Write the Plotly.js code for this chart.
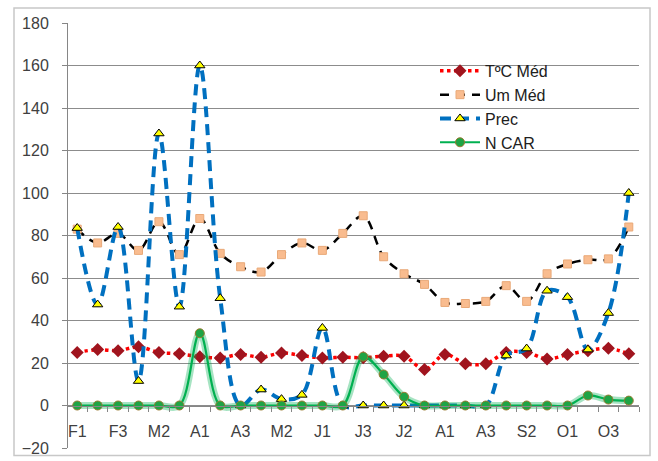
<!DOCTYPE html>
<html>
<head>
<meta charset="utf-8">
<script src="https://cdn.plot.ly/plotly-3.0.1.min.js"></script>
<style>html,body{margin:0;padding:0;background:#fff;}#chart{width:658px;height:461px;}</style>
</head>
<body>
<div id="chart"></div>
<script>
// Category labels (28 ten-day periods)
const labels = ['F1','F2','F3','M1','M2','M3','A1','A2','A3','M1','M2','M3','J1','J2','J3','J1','J2','J3','A1','A2','A3','S1','S2','S3','O1','O2','O3','N1'];
// Series values
const tempMed = [25,26.3,25.8,27.6,25,24.3,23,22.4,24,22.7,24.7,23.5,22.4,22.7,22.5,23.2,23.2,17,24,19.7,19.7,25,25,21.9,24,25.8,26.9,24.3];
const umMed   = [83,76.5,81,73,86.5,71,88,71.6,65.3,62.8,71,76.5,73,81,89.3,70,62,57,48.5,48,49,56.4,49,62,66.6,68.6,69,84];
const prec    = [83.5,47.5,84,11.5,128,46.5,160,50.5,0,7.5,3,5,36.5,0,0,0,0,0,0,0,0,23.5,26.8,54,51,26.3,43.5,100];
const nCar    = [0,0,0,0,0,0,34,0,0,0,0,0,0,0,23,14.6,4.1,0,0,0,0,0,0,0,0,4.7,2.8,2.3];
const seriesNames = ['TºC Méd','Um Méd','Prec','N CAR'];
// Y axis ticks
const yTicks = [-20,0,20,40,60,80,100,120,140,160,180];

const xs = labels.map((_, i) => i);
const shownText = labels.map((l, i) => (i % 2 === 0 ? l : ''));
const boundaries = labels.map((_, i) => i - 0.5).concat([labels.length - 0.5]);

const traces = [
  {x: xs, y: tempMed, name: seriesNames[0], type: 'scatter', mode: 'lines+markers',
   line: {color: '#ff0000', width: 3.5, dash: 'dot', shape: 'spline', smoothing: 1},
   marker: {symbol: 'diamond', size: 10, color: '#a0141e', line: {color: '#a0141e', width: 0}}},
  {x: xs, y: umMed, name: seriesNames[1], type: 'scatter', mode: 'lines+markers',
   line: {color: '#000000', width: 2.5, dash: '9px,7px', shape: 'spline', smoothing: 1},
   marker: {symbol: 'square', size: 8, color: '#f9bc8f', line: {color: '#e9a978', width: 1}}},
  {x: xs, y: prec, name: seriesNames[2], type: 'scatter', mode: 'lines+markers',
   line: {color: '#0070c0', width: 4, dash: '11px,7px', shape: 'spline', smoothing: 1},
   marker: {symbol: 'triangle-up', size: 9, color: '#ffff00', line: {color: '#000000', width: 1}}},
  {x: xs, y: nCar, name: seriesNames[3], type: 'scatter', mode: 'lines', showlegend: false, hoverinfo: 'skip',
   line: {color: 'rgba(0,176,80,0.35)', width: 7, shape: 'spline', smoothing: 1}},
  {x: xs, y: nCar, name: seriesNames[3], type: 'scatter', mode: 'lines+markers',
   line: {color: '#00b050', width: 2.2, shape: 'spline', smoothing: 1},
   marker: {symbol: 'circle', size: 9, color: '#1ea445', line: {color: '#9a7a30', width: 1}}}
];

const L = 67, R = 639, T = 23, B = 448.5, W = 658, H = 461;
const px = v => (v - L) / (R - L);
const py = v => (B - v) / (B - T);

const layout = {
  width: W, height: H,
  margin: {l: L, r: W - R, t: T, b: H - B, pad: 0},
  paper_bgcolor: '#ffffff', plot_bgcolor: '#ffffff',
  font: {family: 'Liberation Sans, Arial, sans-serif', size: 16, color: '#404040'},
  showlegend: true,
  legend: {x: px(435), y: py(54), xanchor: 'left', yanchor: 'top', bgcolor: 'rgba(255,255,255,0)',
           font: {size: 16, color: '#202020'}, tracegroupgap: 0, itemwidth: 40},
  xaxis: {
    type: 'linear', range: [-0.5, labels.length - 0.5],
    anchor: 'free', position: (0 - yTicks[0]) / (yTicks[yTicks.length - 1] - yTicks[0]),
    tickmode: 'array', tickvals: xs, ticktext: shownText, ticks: '',
    showgrid: false, zeroline: false, showline: true, linecolor: '#868686', linewidth: 1,
    ticklabelstandoff: 11,
    minor: {tickmode: 'array', tickvals: boundaries, ticks: 'outside', ticklen: 5, tickcolor: '#868686', showgrid: false},
    tickfont: {size: 16, color: '#404040'}
  },
  yaxis: {
    range: [yTicks[0], yTicks[yTicks.length - 1]], anchor: 'free', position: 0,
    tickmode: 'array', tickvals: yTicks,
    ticks: 'outside', ticklen: 5, tickcolor: '#868686',
    showgrid: true, gridcolor: '#8c8c8c', gridwidth: 1, zeroline: false,
    showline: true, linecolor: '#868686', linewidth: 1,
    ticklabelstandoff: 10,
    tickfont: {size: 16, color: '#404040'}
  },
  shapes: [
    {type: 'rect', xref: 'paper', yref: 'paper', x0: px(14), x1: px(650), y0: py(456), y1: py(8),
     line: {color: '#c8c8c8', width: 1.5}, fillcolor: 'rgba(0,0,0,0)', layer: 'below'}
  ]
};

Plotly.newPlot('chart', traces, layout, {staticPlot: true, displayModeBar: false});
</script>
</body>
</html>
